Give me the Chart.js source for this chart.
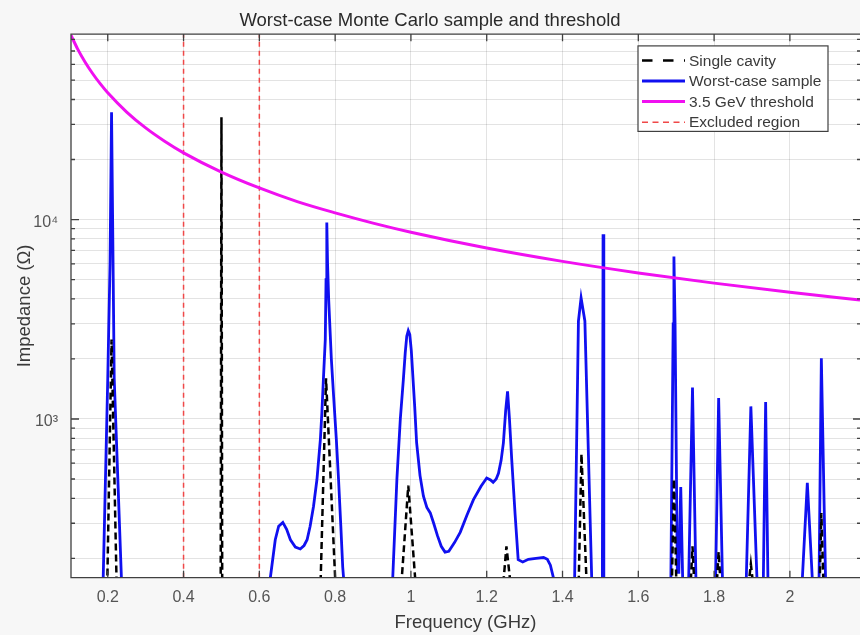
<!DOCTYPE html>
<html>
<head>
<meta charset="utf-8">
<script src="https://cdn.jsdelivr.net/npm/chart.js@4/dist/chart.umd.min.js"></script>
<style>
  html, body { margin: 0; padding: 0; background: #f7f7f7; }
  #wrap { width: 860px; height: 635px; }
</style>
</head>
<body>
<div id="wrap"><canvas id="chart" width="860" height="635"></canvas></div>
<script>
// axis ranges
const xMin = 0.103, xMax = 2.185;
const yMin = 160, yMax = 85000;

const xTicks = [0.2, 0.4, 0.6, 0.8, 1, 1.2, 1.4, 1.6, 1.8, 2];
const yGridValues = [200, 300, 400, 500, 600, 700, 800, 900, 1000, 2000, 3000, 4000, 5000, 6000, 7000, 8000, 9000, 10000, 20000, 30000, 40000, 50000, 60000, 70000, 80000];
const yLabelValues = [1000, 10000];
const yLabelText = ['10\u00b3', '10\u2074'];

// worst-case Monte Carlo sample (GHz, Ohm); 100 = below the visible axis
const sampleFreq = [0.103, 0.182, 0.188, 0.200, 0.206, 0.210, 0.214, 0.217, 0.236, 0.242,
  0.620, 0.629, 0.642, 0.651, 0.662, 0.672, 0.682, 0.695, 0.708, 0.718, 0.726, 0.734, 0.743, 0.752, 0.761, 0.765, 0.769, 0.774, 0.776, 0.778, 0.780, 0.783, 0.790, 0.796, 0.803, 0.809, 0.815, 0.820, 0.826, 0.830,
  0.940, 0.952, 0.963, 0.972, 0.980, 0.985, 0.989, 0.993, 0.997, 1.001, 1.005, 1.010, 1.015, 1.024, 1.033, 1.042, 1.051, 1.060, 1.070, 1.080, 1.090, 1.100, 1.115, 1.130, 1.148, 1.165, 1.185, 1.200, 1.210, 1.217, 1.225, 1.231, 1.238, 1.244, 1.250, 1.255, 1.260, 1.266, 1.275, 1.283, 1.295, 1.310, 1.330, 1.350, 1.360, 1.368, 1.376, 1.382,
  1.420, 1.432, 1.442, 1.449, 1.459, 1.477, 1.483, 1.505, 1.507, 1.509,
  1.680, 1.686, 1.692, 1.694, 1.697, 1.703, 1.707, 1.712, 1.717, 1.722,
  1.728, 1.733, 1.743, 1.752, 1.757, 1.798, 1.804, 1.812, 1.822, 1.827,
  1.878, 1.885, 1.897, 1.913, 1.918, 1.925, 1.930, 1.936, 1.942, 1.947,
  2.027, 2.033, 2.046, 2.059, 2.064, 2.072, 2.077, 2.083, 2.094, 2.100, 2.185];
const sampleImpedance = [100, 100, 160, 1600, 6000, 34500, 6000, 1600, 160, 100,
  100, 160, 248, 290, 303, 280, 248, 228, 223, 232, 248, 290, 365, 497, 787, 1077, 1575, 2500, 5000, 9660, 6000, 3960, 2000, 1300, 800, 497, 290, 181, 130, 100,
  100, 160, 500, 1000, 1575, 2150, 2600, 2770, 2650, 2200, 1650, 1150, 760, 520, 410, 360, 338, 300, 260, 230, 215, 217, 240, 270, 330, 394, 460, 506, 495, 481, 500, 534, 620, 759, 1100, 1374, 1000, 626, 330, 197, 192, 198, 200, 202, 198, 185, 160, 100,
  100, 160, 3100, 4050, 3100, 160, 100, 100, 8450, 100,
  100, 160, 3000, 6530, 3000, 170, 170, 456, 160, 100,
  100, 160, 1439, 160, 100, 100, 160, 1273, 160, 100,
  100, 160, 1156, 160, 100, 100, 160, 1217, 160, 100,
  100, 160, 478, 160, 100, 100, 160, 2018, 160, 100, 100];

// single cavity
const cavityFreq = [0.103, 0.193, 0.199, 0.210, 0.223, 0.230,
  0.495, 0.498, 0.500, 0.502, 0.505,
  0.755, 0.762, 0.776, 0.800, 0.808,
  0.970, 0.976, 0.993, 1.011, 1.020,
  1.240, 1.245, 1.252, 1.261, 1.266,
  1.435, 1.443, 1.450, 1.463, 1.470,
  1.685, 1.689, 1.694, 1.700, 1.705,
  1.737, 1.739, 1.743, 1.747, 1.750,
  1.806, 1.808, 1.812, 1.816, 1.820,
  1.890, 1.893, 1.897, 1.901, 1.905,
  2.075, 2.079, 2.083, 2.088, 2.092, 2.185];
const cavityImpedance = [100, 100, 160, 2500, 160, 100,
  100, 160, 32600, 160, 100,
  100, 160, 1600, 160, 100,
  100, 160, 464, 160, 100,
  100, 160, 230, 160, 100,
  100, 160, 668, 160, 100,
  100, 160, 500, 160, 100,
  100, 160, 230, 160, 100,
  100, 160, 216, 160, 100,
  100, 160, 187, 160, 100,
  100, 160, 338, 160, 100, 100];

// 3.5 GeV threshold
const thresholdFreq = [0.103, 0.12, 0.14, 0.16, 0.18, 0.2, 0.25, 0.3, 0.35, 0.4, 0.5, 0.6, 0.7, 0.8, 0.9, 1.0, 1.2, 1.4, 1.6, 1.8, 2.0, 2.185];
const thresholdImpedance = [84000, 72000, 61700, 54000, 48000, 43200, 34600, 28800, 24700, 21600, 17300, 14400, 12300, 10800, 9600, 8640, 7200, 6170, 5400, 4800, 4320, 3950];

const excludedFreq = [0.4, 0.6];

const textColor = '#3a3a3a';
const axisColor = '#404040';
const gridColor = 'rgba(0,0,0,0.11)';

function toPoints(xs, ys) {
    return xs.map((x, i) => ({ x: x, y: ys[i] }));
}

function excludedPoints() {
    const pts = [];
    excludedFreq.forEach((f, i) => {
        if (i > 0) pts.push({ x: f, y: null });
        pts.push({ x: f, y: yMin });
        pts.push({ x: f, y: yMax });
    });
    return pts;
}

const plotBackground = {
    id: 'plotBackground',
    beforeDraw(chart) {
        const { ctx, chartArea: a } = chart;
        ctx.save();
        ctx.fillStyle = '#ffffff';
        ctx.fillRect(a.left, a.top, a.right - a.left, a.bottom - a.top);
        ctx.restore();
    }
};

// axes box with inward ticks, like the original figure (right edge is cut off)
const axisFrame = {
    id: 'axisFrame',
    afterDatasetsDraw(chart) {
        const { ctx, chartArea: a, scales } = chart;
        ctx.save();
        ctx.strokeStyle = axisColor;
        ctx.lineWidth = 1.3;
        ctx.beginPath();
        ctx.moveTo(a.right + 2, a.top);
        ctx.lineTo(a.left, a.top);
        ctx.lineTo(a.left, a.bottom);
        ctx.lineTo(a.right + 2, a.bottom);
        scales.x.ticks.forEach((t) => {
            const px = scales.x.getPixelForValue(t.value);
            ctx.moveTo(px, a.bottom);
            ctx.lineTo(px, a.bottom - 7);
            ctx.moveTo(px, a.top);
            ctx.lineTo(px, a.top + 7);
        });
        scales.y.ticks.forEach((t) => {
            const py = scales.y.getPixelForValue(t.value);
            const len = yLabelValues.includes(t.value) ? 8 : 4;
            ctx.moveTo(a.left, py);
            ctx.lineTo(a.left + len, py);
            ctx.moveTo(a.right + 1, py);
            ctx.lineTo(a.right + 1 - len, py);
        });
        ctx.stroke();
        ctx.restore();
    }
};

const boxLegend = {
    id: 'boxLegend',
    afterDraw(chart) {
        const { ctx, chartArea: a } = chart;
        const w = 190, h = 85.5;
        const left = a.right - 32 - w;
        const top = a.top + 11.7;
        ctx.save();
        ctx.fillStyle = '#ffffff';
        ctx.fillRect(left, top, w, h);
        ctx.strokeStyle = axisColor;
        ctx.lineWidth = 1.2;
        ctx.strokeRect(left, top, w, h);
        ctx.font = '15.5px "Liberation Sans", Arial, sans-serif';
        ctx.textBaseline = 'middle';
        chart.data.datasets.forEach((ds, i) => {
            const yy = top + 14.5 + i * 20.6;
            ctx.strokeStyle = ds.borderColor;
            ctx.lineWidth = ds.borderWidth;
            ctx.setLineDash(ds.legendDash || []);
            ctx.beginPath();
            ctx.moveTo(left + 4, yy);
            ctx.lineTo(left + 47, yy);
            ctx.stroke();
            ctx.setLineDash([]);
            ctx.fillStyle = textColor;
            ctx.fillText(ds.label, left + 51, yy + 1);
        });
        ctx.restore();
    }
};

Chart.defaults.font.family = '"Liberation Sans", Arial, sans-serif';
Chart.defaults.color = textColor;

new Chart(document.getElementById('chart'), {
    type: 'line',
    data: {
        datasets: [
            {
                label: 'Single cavity',
                data: toPoints(cavityFreq, cavityImpedance),
                borderColor: '#000000',
                borderWidth: 2.5,
                borderDash: [7, 4],
                legendDash: [10.5, 10.5],
                order: 1,
            },
            {
                label: 'Worst-case sample',
                data: toPoints(sampleFreq, sampleImpedance),
                borderColor: '#1010f0',
                borderWidth: 2.8,
                order: 2,
            },
            {
                label: '3.5 GeV threshold',
                data: toPoints(thresholdFreq, thresholdImpedance),
                borderColor: '#f010f0',
                borderWidth: 3,
                cubicInterpolationMode: 'monotone',
                order: 0,
            },
            {
                label: 'Excluded region',
                data: excludedPoints(),
                borderColor: '#f04848',
                borderWidth: 1.5,
                borderDash: [5, 4],
                legendDash: [6, 4.5],
                spanGaps: false,
                order: 3,
            },
        ],
    },
    options: {
        responsive: false,
        animation: false,
        devicePixelRatio: 1,
        clip: 0,
        layout: { padding: 0 },
        elements: {
            point: { radius: 0 },
            line: { tension: 0, fill: false, borderCapStyle: 'butt' },
        },
        plugins: {
            legend: { display: false },
            tooltip: { enabled: false },
            title: {
                display: true,
                text: 'Worst-case Monte Carlo sample and threshold',
                color: '#2a2a2a',
                font: { size: 18.5, weight: 'normal' },
                padding: { top: 10, bottom: 2 },
            },
        },
        scales: {
            x: {
                type: 'linear',
                min: xMin,
                max: xMax,
                bounds: 'data',
                afterBuildTicks: (scale) => {
                    scale.ticks = xTicks.map((v) => ({ value: v }));
                },
                afterFit: (scale) => {
                    scale.height = 57.3;
                },
                ticks: {
                    autoSkip: false,
                    maxRotation: 0,
                    padding: 10,
                    font: { size: 16 },
                    color: '#555555',
                    callback: (v) => String(v),
                },
                grid: { color: gridColor, drawTicks: false },
                border: { display: false },
                title: {
                    display: true,
                    text: 'Frequency (GHz)',
                    font: { size: 18.5 },
                    color: textColor,
                    padding: { top: 0, bottom: 1 },
                },
            },
            y: {
                type: 'logarithmic',
                min: yMin,
                max: yMax,
                bounds: 'data',
                afterBuildTicks: (scale) => {
                    scale.ticks = yGridValues.map((v) => ({ value: v }));
                },
                afterFit: (scale) => {
                    scale.width = 71;
                },
                ticks: {
                    autoSkip: false,
                    padding: 13,
                    labelOffset: 3,
                    font: { size: 16 },
                    color: '#555555',
                    callback: (v) => {
                        const i = yLabelValues.indexOf(v);
                        return i >= 0 ? yLabelText[i] : '';
                    },
                },
                grid: { color: gridColor, drawTicks: false },
                border: { display: false },
                title: {
                    display: true,
                    text: 'Impedance (\u03a9)',
                    font: { size: 18.5 },
                    color: textColor,
                    padding: { top: 14, bottom: 0 },
                },
            },
        },
    },
    plugins: [plotBackground, axisFrame, boxLegend],
});
</script>
</body>
</html>
